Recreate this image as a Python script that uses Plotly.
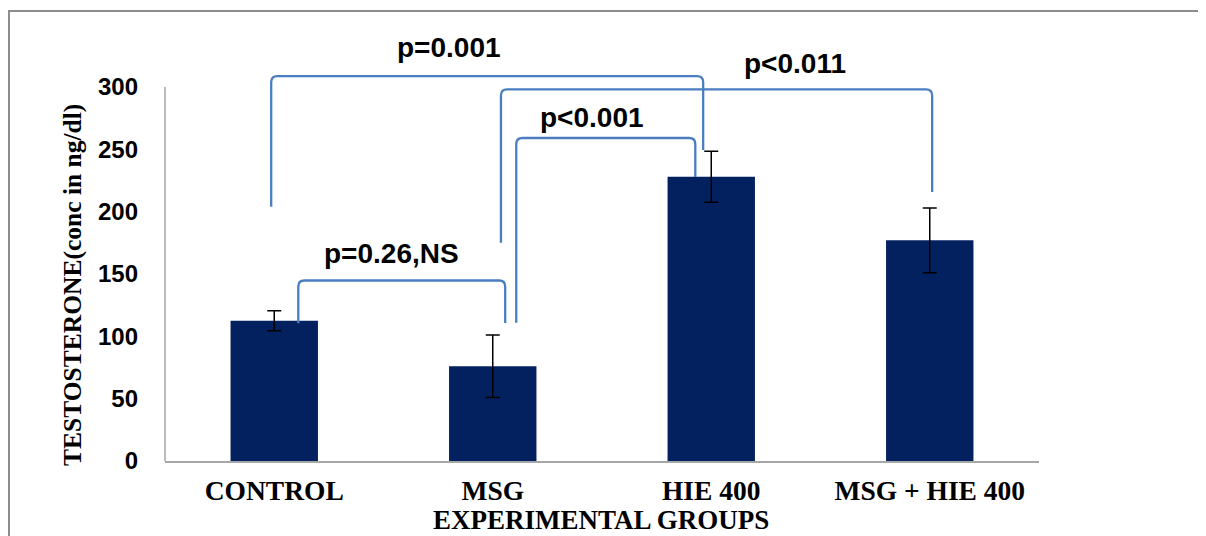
import plotly.graph_objects as go

# ---- data ----
categories = ["CONTROL", "MSG", "HIE 400", "MSG + HIE 400"]
means = [112.5, 76, 228, 177]
errors = [8, 25, 20.5, 26]
y_ticks = [0, 50, 100, 150, 200, 250, 300]

# significance brackets: (x_left, y_left_bottom, x_right, y_right_bottom, y_top, label, label_x, label_y)
brackets = [
    (0.11, 110.5, 1.057, 110.7, 144.8, "p=0.26,NS", 0.535, 166.8),
    (-0.014, 204, 1.963, 249.5, 308.8, "p=0.001", 0.80, 332),
    (1.0375, 175.1, 3.011, 215.8, 298.1, "p<0.011", 2.385, 319.2),
    (1.1075, 110.9, 1.927, 227.8, 259.1, "p<0.001", 1.455, 275.9),
]

# figure pixel geometry (page offset of 8px by body margin already removed)
W, H = 1198, 528
L, R, T, B = 157, 1031, 29, 453  # plot area pixels
y300 = 79  # pixel row of the 300 tick
y_top = 300 * (B - T) / (B - y300)

bar_color = "#03215E"
bracket_color = "#4A7EC0"

xs = list(range(len(categories)))

fig = go.Figure()
fig.add_trace(go.Bar(
    x=xs, y=means,
    marker=dict(color=bar_color, line=dict(width=0)),
    error_y=dict(type="data", array=errors, visible=True, color="black", thickness=1.5, width=7),
    width=0.4,
))

shapes = []
rx, ry = 0.028, 5.0
for (x0, yb0, x1, yb1, yt, lab, lx, ly) in brackets:
    path = (f"M {x0},{yb0} L {x0},{yt-ry} Q {x0},{yt} {x0+rx},{yt} "
            f"L {x1-rx},{yt} Q {x1},{yt} {x1},{yt-ry} L {x1},{yb1}")
    shapes.append(dict(type="path", xref="x", yref="y", path=path,
                       line=dict(color=bracket_color, width=2.3)))

# y axis line from 0 to 300
shapes.append(dict(type="line", xref="paper", yref="y", x0=0, x1=0, y0=0, y1=300,
                   line=dict(color="#A6A6A6", width=1.5)))


def px(xp):
    return (xp - L) / (R - L)


def py(yp):
    return (B - yp) / (B - T)


# outer frame
shapes.append(dict(type="rect", xref="paper", yref="paper",
                   x0=px(1), x1=px(1215), y0=py(545), y1=py(3),
                   line=dict(color="#8C8C8C", width=2), fillcolor="rgba(0,0,0,0)"))

annotations = []
for (x0, yb0, x1, yb1, yt, lab, lx, ly) in brackets:
    annotations.append(dict(x=lx, y=ly, xref="x", yref="y", text=lab, showarrow=False,
                            font=dict(family="Liberation Sans", size=28, color="black", weight="bold"),
                            xanchor="center", yanchor="middle"))

annotations.append(dict(x=px(64), y=py(277), xref="paper", yref="paper",
                        text="TESTOSTERONE(conc in ng/dl)", textangle=-90, showarrow=False,
                        font=dict(family="Liberation Serif", size=25.5, color="black", weight="bold"),
                        xanchor="center", yanchor="middle"))
annotations.append(dict(x=px(593), y=py(529), xref="paper", yref="paper",
                        text="EXPERIMENTAL GROUPS", showarrow=False,
                        font=dict(family="Liberation Serif", size=27, color="black", weight="bold"),
                        xanchor="center", yanchor="bottom"))

fig.update_layout(
    width=W, height=H,
    margin=dict(l=L, r=W - R, t=T, b=H - B, pad=0),
    paper_bgcolor="white", plot_bgcolor="white",
    showlegend=False,
    shapes=shapes,
    annotations=annotations,
    bargap=0.6,
)
fig.update_xaxes(
    range=[-0.5, 3.5], tickvals=xs, ticktext=categories,
    showgrid=False, zeroline=False, showline=True, linecolor="#A6A6A6", linewidth=1.5,
    ticks="", ticklabelstandoff=4,
    tickfont=dict(family="Liberation Serif", size=27.5, color="black", weight="bold"),
)
fig.update_yaxes(
    range=[0, y_top], tickvals=y_ticks, ticktext=[str(v) for v in y_ticks],
    showgrid=False, zeroline=False, showline=False,
    ticks="", ticklabelstandoff=26,
    tickfont=dict(family="Liberation Sans", size=24, color="black", weight="bold"),
)

fig.write_html("out.html")
